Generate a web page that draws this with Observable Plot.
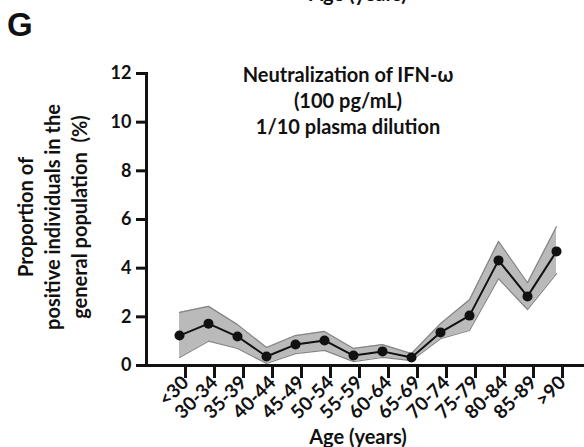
<!DOCTYPE html>
<html><head><meta charset="utf-8">
<script src="https://cdn.jsdelivr.net/npm/d3@7"></script>
<script src="https://cdn.jsdelivr.net/npm/@observablehq/plot@0.6"></script>
<style>
body{margin:0;background:#fff;}
#c{position:relative;width:584px;height:447px;overflow:hidden;font-family:Lato,sans-serif;font-weight:bold;color:#111;}
#c svg{position:absolute;left:0;top:0;}
.t{position:absolute;white-space:nowrap;}
</style>
</head><body><div id="c">
<div class="t" style="left:258px;top:-17px;width:200px;text-align:center;font-size:20px;line-height:20px">Age (years)</div>
<div class="t" style="left:7px;top:5px;font-family:'Liberation Sans',Arial,sans-serif;font-size:33px;line-height:40px">G</div>
<div class="t" style="left:198px;top:61px;width:300px;text-align:center;font-size:20px;line-height:26px">Neutralization of IFN-ω<br>(100 pg/mL)<br>1/10 plasma dilution</div>
<div class="t" style="left:52px;top:217px;transform:translate(-50%,-50%) rotate(-90deg);text-align:center;font-size:20px;line-height:27px">Proportion of<br>positive individuals in the<br>general population&nbsp; (%)</div>
<div class="t" style="left:258px;top:426px;width:200px;text-align:center;font-size:20px;line-height:20px">Age (years)</div>
</div>
<script>
const ages = ["<30","30-34","35-39","40-44","45-49","50-54","55-59","60-64","65-69","70-74","75-79","80-84","85-89",">90"];
const pct   = [1.23,1.72,1.19,0.37,0.86,1.03,0.41,0.58,0.33,1.36,2.05,4.32,2.84,4.69];
const upper = [2.18,2.43,1.68,0.74,1.23,1.40,0.70,0.86,0.49,1.72,2.70,5.10,3.40,5.70];
const lower = [0.33,1.00,0.70,0.08,0.49,0.62,0.16,0.33,0.20,1.10,1.44,3.57,2.30,3.78];
const yTicks = [0,2,4,6,8,10,12];

const data = ages.map((a,i)=>({age:a, p:pct[i], hi:upper[i], lo:lower[i]}));

const chart = Plot.plot({
  width:584, height:447,
  marginLeft:146, marginRight:0, marginTop:73, marginBottom:82,
  style:{fontFamily:"Lato, sans-serif", fontWeight:"bold", color:"#111", background:"transparent"},
  x:{type:"point", domain:ages, range:[163,572]},
  y:{domain:[0,12]},
  marks:[
    Plot.areaY(data,{x:"age", y1:"lo", y2:"hi", fill:"#bababa", fillOpacity:1}),
    Plot.lineY(data,{x:"age", y:"hi", stroke:"#858585", strokeWidth:1.2}),
    Plot.lineY(data,{x:"age", y:"lo", stroke:"#858585", strokeWidth:1.2}),
    Plot.lineY(data,{x:"age", y:"p", stroke:"#111", strokeWidth:2}),
    Plot.dot(data,{x:"age", y:"p", r:5, fill:"#111"}),
    Plot.axisY({ticks:yTicks, tickSize:10, tickPadding:5, fontSize:18, label:null, strokeWidth:3}),
    Plot.axisX({tickSize:13, tickPadding:1, tickRotate:-45, fontSize:19, dx:6, label:null, strokeWidth:3}),
    Plot.ruleY([0],{strokeWidth:3, stroke:"#111"}),
    Plot.frame({anchor:"left", strokeWidth:3, stroke:"#111"})
  ]
});
document.getElementById("c").prepend(chart);
</script>
</body></html>
